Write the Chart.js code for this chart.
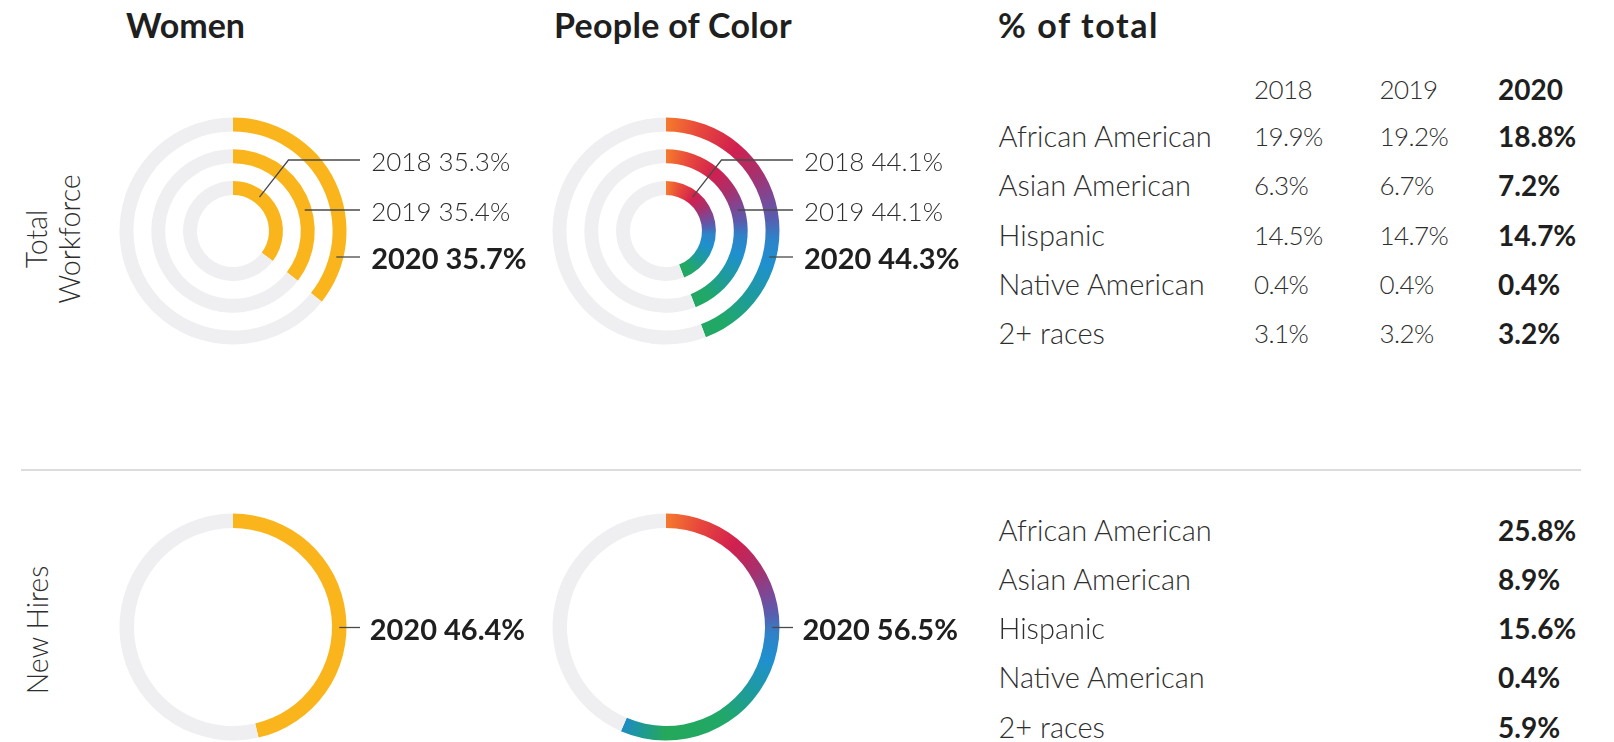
<!DOCTYPE html>
<html>
<head>
<meta charset="utf-8">
<script src="https://cdn.jsdelivr.net/npm/chart.js@4.4.1/dist/chart.umd.min.js"></script>
<style>
  html, body { margin:0; padding:0; background:#fff; }
  body { width:1614px; height:742px; overflow:hidden; position:relative; font-family: Lato, "Open Sans", sans-serif; color:#2e2e2e; }
  .abs { position:absolute; white-space:nowrap; }
  .title { font-weight:700; font-size:34px; color:#1f1f1f; line-height:40px; }
  .lt { font-weight:300; font-size:29px; color:#2e2e2e; line-height:34px; transform:translateY(-50%); }
  .num { font-weight:300; font-size:26px; letter-spacing:-0.6px; color:#2e2e2e; line-height:34px; transform:translateY(-50%); }
  .bd { font-weight:700; font-size:28px; color:#1f1f1f; line-height:34px; transform:translateY(-50%); }
  .lbl { font-weight:300; font-size:26px; color:#2e2e2e; line-height:34px; transform:translateY(-50%); }
  .lblb { font-weight:700; font-size:29px; color:#1f1f1f; line-height:34px; transform:translateY(-50%); }
  .side { font-weight:300; font-size:28.5px; color:#2e2e2e; line-height:33px; text-align:center; transform:translate(-50%,-50%) rotate(-90deg); }
  .cv { position:absolute; }
  #sep { position:absolute; left:21px; top:469px; width:1560px; height:2px; background:#dcdcdc; }
</style>
</head>
<body>
<div id="root"></div>
<script>
// ---------------- data ----------------
const years = ['2018', '2019', '2020'];
const womenTotal = [35.3, 35.4, 35.7];      // 2018, 2019, 2020
const pocTotal = [44.1, 44.1, 44.3];        // 2018, 2019, 2020
const womenHires = [46.4];                  // 2020
const pocHires = [56.5];                    // 2020
const groups = ['African American', 'Asian American', 'Hispanic', 'Native American', '2+ races'];
const total2018 = [19.9, 6.3, 14.5, 0.4, 3.1];
const total2019 = [19.2, 6.7, 14.7, 0.4, 3.2];
const total2020 = [18.8, 7.2, 14.7, 0.4, 3.2];
const hires2020 = [25.8, 8.9, 15.6, 0.4, 5.9];
const columnTitles = ['Women', 'People of Color', '% of total'];
const rowTitles = [['Total', 'Workforce'], ['New Hires']];

// ---------------- style ----------------
const YELLOW = '#fab51d';
const TRACK = '#efeff2';
const RING_W = 14, GAP_W = 18;
const BOX_W = 420, BOX_H = 260, C = 130;   // chart box, centre offset
const pct = v => v.toFixed(1) + '%';

const root = document.getElementById('root');
function addText(cls, text, x, y) {
  const d = document.createElement('div');
  d.className = 'abs ' + cls;
  d.textContent = text;
  d.style.left = x + 'px';
  d.style.top = y + 'px';
  root.appendChild(d);
  return d;
}

function conic(chart) {
  const a = chart.chartArea;
  if (!a) return '#c0305a';
  const cx = (a.left + a.right) / 2, cy = (a.top + a.bottom) / 2;
  const g = chart.ctx.createConicGradient(-Math.PI / 2, cx, cy);
  g.addColorStop(0.00, '#f47a2c');
  g.addColorStop(0.05, '#e8483c');
  g.addColorStop(0.11, '#d1204f');
  g.addColorStop(0.16, '#a8306c');
  g.addColorStop(0.20, '#7c4896');
  g.addColorStop(0.23, '#5a5cae');
  g.addColorStop(0.26, '#2f82c8');
  g.addColorStop(0.30, '#1f90cf');
  g.addColorStop(0.36, '#1e9c98');
  g.addColorStop(0.41, '#21a868');
  g.addColorStop(0.50, '#25a85a');
  g.addColorStop(0.53, '#1f9c8a');
  g.addColorStop(0.565, '#1d8cc4');
  g.addColorStop(1.00, '#1d8cc4');
  return g;
}

function leaderPlugin(items) {
  return {
    id: 'leaders',
    afterDatasetsDraw(chart) {
      const ctx = chart.ctx;
      ctx.save();
      ctx.strokeStyle = '#4a4a4a';
      ctx.lineWidth = 1.3;
      items.forEach(it => {
        const arc = chart.getDatasetMeta(it.ds).data[0];
        const cx = arc.x, cy = arc.y;
        const rm = (arc.innerRadius + arc.outerRadius) / 2;
        const yEnd = cy + it.dy;
        ctx.beginPath();
        if (it.radialDeg != null) {
          const th = it.radialDeg * Math.PI / 180;
          const sx = cx + rm * Math.sin(th), sy = cy - rm * Math.cos(th);
          const t = -it.dy / Math.cos(th);
          const kx = cx + t * Math.sin(th);
          ctx.moveTo(sx, sy);
          ctx.lineTo(kx, yEnd);
        } else {
          const sx = cx + Math.sqrt(Math.max(rm * rm - it.dy * it.dy, 0));
          ctx.moveTo(sx, yEnd);
        }
        ctx.lineTo(cx + 127, yEnd);
        ctx.stroke();
      });
      ctx.restore();
    }
  };
}

// values ordered outer -> inner
function ringChart(cx, cy, valuesOuterToInner, colorFn, cutout, items) {
  const canvas = document.createElement('canvas');
  canvas.width = BOX_W; canvas.height = BOX_H;
  canvas.className = 'cv';
  canvas.style.left = (cx - C) + 'px';
  canvas.style.top = (cy - C) + 'px';
  root.appendChild(canvas);
  const datasets = [];
  valuesOuterToInner.forEach((v, i) => {
    if (i > 0) datasets.push({ data: [1], backgroundColor: 'rgba(0,0,0,0)', weight: GAP_W });
    datasets.push({
      data: [v, 100 - v],
      weight: RING_W,
      backgroundColor: (c) => c.dataIndex === 0 ? colorFn(c.chart) : TRACK
    });
  });
  const pad = C - 113.5;
  new Chart(canvas, {
    type: 'doughnut',
    data: { labels: ['share', 'rest'], datasets },
    options: {
      responsive: false,
      animation: false,
      devicePixelRatio: 1,
      events: [],
      cutout: cutout,
      layout: { padding: { left: pad, top: pad, bottom: pad, right: BOX_W - 2 * C + pad } },
      elements: { arc: { borderWidth: 0, hoverOffset: 0 } },
      plugins: { legend: { display: false }, tooltip: { enabled: false } }
    },
    plugins: [leaderPlugin(items)]
  });
}

const yellowFn = () => YELLOW;

// ---------------- layout ----------------
const colX = [232.7, 665.5];
const rowY = [230.7, 627];
const labelDy = [-71, -21, 26];   // 2018, 2019, 2020 (top charts)

// titles
addText('title', columnTitles[0], 126, 5);
const t2 = addText('title', columnTitles[1], 554, 5); t2.style.letterSpacing = '0.3px';
const t3 = addText('title', columnTitles[2], 998, 5); t3.style.letterSpacing = '1.6px';

// side labels
const s1 = addText('side', '', 53, 239);
s1.innerHTML = rowTitles[0].join('<br>');
addText('side', rowTitles[1][0], 37, 630);

// separator
const sep = document.createElement('div'); sep.id = 'sep'; root.appendChild(sep);

// top charts (total workforce): outer ring = 2020, inner = 2018
[[womenTotal, yellowFn], [pocTotal, conic]].forEach(([vals, fn], k) => {
  const cx = colX[k], cy = rowY[0];
  const outerToInner = [vals[2], vals[1], vals[0]];
  ringChart(cx, cy, outerToInner, fn, 36, [
    { ds: 4, dy: labelDy[0], radialDeg: 38 },
    { ds: 2, dy: labelDy[1] },
    { ds: 0, dy: labelDy[2] }
  ]);
  for (let y = 0; y < 3; y++) {
    addText(y === 2 ? 'lblb' : 'lbl', years[y] + ' ' + pct(vals[y]), cx + 138.5, cy + labelDy[y] + 1.5);
  }
});

// bottom charts (new hires)
[[womenHires, yellowFn], [pocHires, conic]].forEach(([vals, fn], k) => {
  const cx = colX[k], cy = rowY[1];
  ringChart(cx, cy, [vals[0]], fn, 99, [{ ds: 0, dy: 0.5 }]);
  addText('lblb', years[2] + ' ' + pct(vals[0]), cx + 137, cy + 2);
});

// table
const tLabelX = 998.5, tColX = [1254, 1379.5, 1498];
addText('num', years[0], tColX[0], 88.5);
addText('num', years[1], tColX[1], 88.5);
addText('bd', years[2], tColX[2], 88.5);
const topRows = [135.9, 185.3, 234.7, 284.1, 332.5];
const botRows = [530.1, 578.5, 627.9, 677.3, 726.7];
groups.forEach((g, i) => {
  addText('lt', g, tLabelX, topRows[i]);
  addText('num', pct(total2018[i]), tColX[0], topRows[i]);
  addText('num', pct(total2019[i]), tColX[1], topRows[i]);
  addText('bd', pct(total2020[i]), tColX[2], topRows[i]);
  addText('lt', g, tLabelX, botRows[i]);
  addText('bd', pct(hires2020[i]), tColX[2], botRows[i]);
});
</script>
</body>
</html>
